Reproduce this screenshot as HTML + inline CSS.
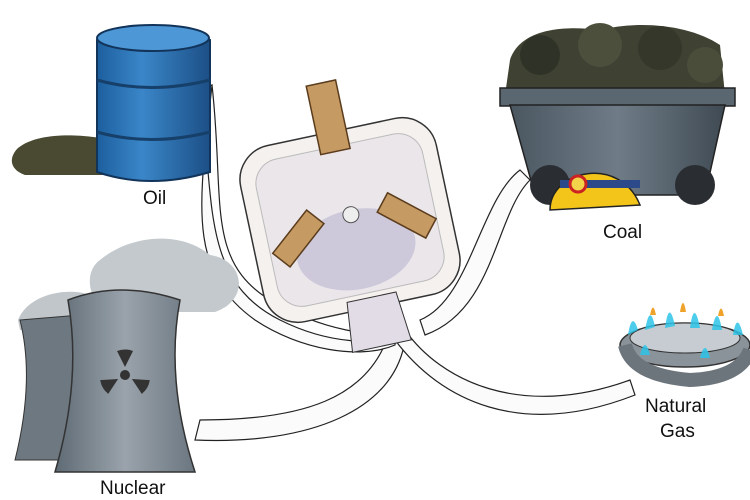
<!DOCTYPE html>
<html><head><meta charset="utf-8"><style>
html,body{margin:0;padding:0;background:#fff;width:750px;height:500px;overflow:hidden}
svg{display:block}
text{font-family:"Liberation Sans",sans-serif;font-size:19px;fill:#111}
</style></head><body>
<svg width="750" height="500" viewBox="0 0 750 500" xmlns="http://www.w3.org/2000/svg">
<defs>
<linearGradient id="barrel" x1="0" x2="1"><stop offset="0" stop-color="#1d5f9e"/><stop offset="0.4" stop-color="#3a86c8"/><stop offset="1" stop-color="#1c4f86"/></linearGradient>
<linearGradient id="tower" x1="0" x2="1"><stop offset="0" stop-color="#5e6a74"/><stop offset="0.5" stop-color="#9aa3ab"/><stop offset="1" stop-color="#6b7680"/></linearGradient>
<linearGradient id="cart" x1="0" x2="1"><stop offset="0" stop-color="#4a5660"/><stop offset="0.5" stop-color="#6f7c87"/><stop offset="1" stop-color="#3f4a53"/></linearGradient>
</defs>
<!-- cables -->
<g fill="none" stroke="#222" stroke-width="1.2">
<path d="M212 85 C225 200,205 260,270 300 C320 330,380 340,400 330" />
<path d="M200 95 C210 210,190 280,260 320 C320 350,380 350,395 340" stroke="none"/>
<path d="M420 320 C470 300,480 200,520 170 L530 180 C495 215,495 310,425 335 Z" fill="#fbfbfb"/>
<path d="M390 330 C370 400,300 420,200 420 L195 440 C310 445,395 410,405 340 Z" fill="#fbfbfb"/>
<path d="M405 330 C440 380,520 420,630 380 L635 395 C520 440,440 400,395 340 Z" fill="#fbfbfb"/>
<path d="M200 90 C215 200,200 280,280 320 C330 345,380 345,395 335 L395 345 C360 360,300 350,255 320 C185 270,200 200,212 85 Z" fill="#fbfbfb"/>
</g>
<!-- oil puddle -->
<path d="M18 148 C40 130,90 135,110 140 L130 175 L25 175 C10 170,8 158,18 148Z" fill="#4a4a32"/>
<!-- barrel -->
<path d="M97 40 Q150 20,210 40 L210 172 Q150 190,97 172 Z" fill="url(#barrel)" stroke="#12345a" stroke-width="2"/>
<ellipse cx="153" cy="38" rx="56" ry="13" fill="#4d97d6" stroke="#12345a" stroke-width="2"/>
<path d="M97 80 Q150 95,210 80 M97 132 Q150 147,210 132" stroke="#163f6a" stroke-width="3" fill="none"/>
<text x="143" y="204">Oil</text>
<!-- plug -->
<g transform="rotate(-12 350 220)">
<rect x="250" y="130" width="200" height="180" rx="35" fill="#f4f1ef" stroke="#333" stroke-width="1.5"/>
<rect x="265" y="145" width="170" height="150" rx="25" fill="#ebe6ea" stroke="#bbb"/>
<ellipse cx="350" cy="250" rx="60" ry="40" fill="#b9b4cf" opacity="0.6"/>
<path d="M330 300 L380 300 L385 350 L325 350 Z" fill="#e2dce6" stroke="#333"/>
<rect x="335" y="80" width="30" height="70" fill="#c59a63" stroke="#5b3c1c" stroke-width="1.5"/>
<rect x="285" y="200" width="22" height="55" transform="rotate(50 296 227)" fill="#c59a63" stroke="#5b3c1c" stroke-width="1.5"/>
<rect x="395" y="200" width="22" height="55" transform="rotate(-50 406 227)" fill="#c59a63" stroke="#5b3c1c" stroke-width="1.5"/>
<circle cx="352" cy="215" r="8" fill="#eee" stroke="#555"/>
</g>
<!-- coal cart -->
<g>
<path d="M510 60 C520 30,560 25,600 30 C640 20,690 25,720 45 L725 95 L505 95 Z" fill="#3f4232"/>
<circle cx="540" cy="55" r="20" fill="#2f3227"/><circle cx="600" cy="45" r="22" fill="#4b4f3c"/><circle cx="660" cy="48" r="22" fill="#34372a"/><circle cx="705" cy="65" r="18" fill="#4a4d3a"/>
<rect x="500" y="88" width="235" height="18" fill="#5a6670" stroke="#222" stroke-width="1.5"/>
<path d="M510 105 L725 105 L705 195 L535 195 Z" fill="url(#cart)" stroke="#222" stroke-width="1.5"/>
<circle cx="550" cy="185" r="20" fill="#2a2e33"/><circle cx="695" cy="185" r="20" fill="#2a2e33"/>
<path d="M550 210 C550 170,620 155,640 205 Z" fill="#f3c419" stroke="#222" stroke-width="1.5"/>
<rect x="560" y="180" width="80" height="8" fill="#2c4a8a"/>
<circle cx="578" cy="184" r="8" fill="#f2d34a" stroke="#c22" stroke-width="3"/>
</g>
<text x="603" y="238">Coal</text>
<!-- nuclear -->
<path d="M100 260 C130 235,180 230,210 255 C245 260,250 300,215 312 L110 312 C85 300,85 270,100 260Z" fill="#c3c9cc"/>
<path d="M18 320 C30 290,80 285,100 300 L100 330 L20 330Z" fill="#c0c6c9"/>
<path d="M20 320 L80 315 Q70 380,95 460 L15 460 Q35 380,20 320Z" fill="#6d7881" stroke="#333"/>
<path d="M68 300 Q120 280,180 300 Q165 380,195 472 L55 472 Q82 380,68 300Z" fill="url(#tower)" stroke="#333" stroke-width="1.5"/>
<g fill="#333" transform="translate(125 375)">
<circle r="5"/><path d="M0 -8 L-8 -24 A22 22 0 0 1 8 -24 Z"/><path d="M0 -8 L-8 -24 A22 22 0 0 1 8 -24 Z" transform="rotate(120)"/><path d="M0 -8 L-8 -24 A22 22 0 0 1 8 -24 Z" transform="rotate(240)"/>
</g>
<text x="100" y="494">Nuclear</text>
<!-- gas burner -->
<ellipse cx="685" cy="345" rx="65" ry="22" fill="#8b939a" stroke="#333" stroke-width="1.5"/>
<ellipse cx="685" cy="338" rx="55" ry="15" fill="#c6ccd1" stroke="#333"/>
<path d="M625 345 Q632 375,690 380 Q740 378,750 350" fill="none" stroke="#6d757c" stroke-width="14"/>
<g fill="#2ec4e8" opacity="0.85">
<path d="M628 335 q4 -25 10 -5 z"/><path d="M645 330 q5 -28 10 -3 z"/><path d="M665 328 q4 -30 10 -2 z"/><path d="M690 328 q4 -30 10 0 z"/><path d="M712 330 q5 -28 10 0 z"/><path d="M733 335 q4 -25 10 0 z"/>
<path d="M640 355 q5 -20 10 0 z"/><path d="M700 358 q5 -20 10 0 z"/>
</g>
<g fill="#f0a32a"><path d="M650 315 q3 -15 6 0z"/><path d="M680 312 q3 -18 6 0z"/><path d="M718 316 q3 -15 6 0z"/></g>
<text x="645" y="412">Natural</text>
<text x="660" y="437">Gas</text>
</svg>
</body></html>
